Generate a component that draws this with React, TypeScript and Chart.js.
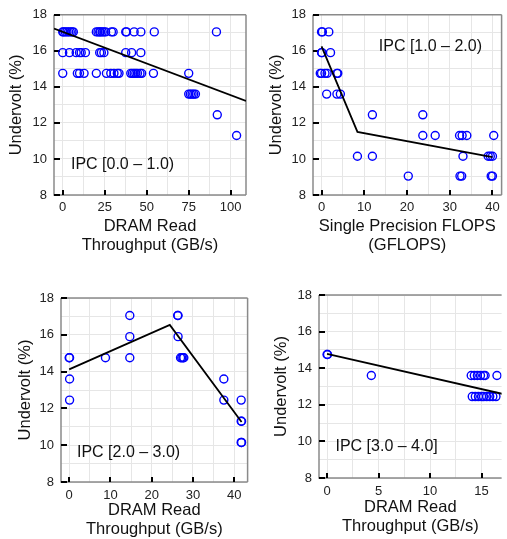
import React, { useEffect, useRef } from "react";
import { Chart, registerables } from "chart.js";

Chart.register(...registerables);

const FONT = "'Liberation Sans', Arial, Helvetica, sans-serif";

// ---------- shared y axis ----------
const yTickLabels = [8, 10, 12, 14, 16, 18];
const yGrid = [8, 9, 10, 11, 12, 13, 14, 15, 16, 17, 18];

// ---------- Panel 1: IPC [0.0 – 1.0) ----------
const p1XTicks = [0, 25, 50, 75, 100];
const p1XGrid = [0, 12.5, 25, 37.5, 50, 62.5, 75, 87.5, 100];
const p1X = [
  0, 0.5, 1.5, 2.5, 3.5, 4.5, 5.5, 6.3, 20, 21, 22, 22.5, 23.5, 24.5, 25.5, 29, 30, 37.5, 38, 42.5, 46.5, 54.5, 91.5,
  0, 4, 8, 10, 11, 13.5, 22, 23, 24.5, 37.5, 41, 46.5,
  0, 8.7, 10, 12.7, 20, 26, 28.6, 30.5, 32.5, 33.5, 40.5, 41.5, 42.5, 43.5, 44.5, 46, 47, 54, 75,
  75, 76, 77, 78, 79,
  92,
  103.5,
];
const p1Y = [
  17.05, 17.05, 17.05, 17.05, 17.05, 17.05, 17.05, 17.05, 17.05, 17.05, 17.05, 17.05, 17.05, 17.05, 17.05, 17.05, 17.05, 17.05, 17.05, 17.05, 17.05, 17.05, 17.05,
  15.9, 15.9, 15.9, 15.9, 15.9, 15.9, 15.9, 15.9, 15.9, 15.9, 15.9, 15.9,
  14.75, 14.75, 14.75, 14.75, 14.75, 14.75, 14.75, 14.75, 14.75, 14.75, 14.75, 14.75, 14.75, 14.75, 14.75, 14.75, 14.75, 14.75, 14.75,
  13.6, 13.6, 13.6, 13.6, 13.6,
  12.45,
  11.3,
];
const p1FitX = [-5.2, 109.1];
const p1FitY = [17.24, 13.22];

// ---------- Panel 2: IPC [1.0 – 2.0) ----------
const p2XTicks = [0, 10, 20, 30, 40];
const p2XGrid = [0, 5, 10, 15, 20, 25, 30, 35, 40];
const p2X = [
  0, 0.2, 1.7,
  0, 0.1, 2.1,
  -0.3, 0, 0.8, 1.3, 3.6, 3.8,
  1.2, 3.6, 4.4,
  11.9, 23.7,
  23.7, 26.6, 32.3, 32.9, 34, 40.3,
  8.4, 11.9, 33.1, 39, 39.5, 40,
  20.3, 32.4, 32.8, 39.7, 40,
];
const p2Y = [
  17.05, 17.05, 17.05,
  15.9, 15.9, 15.9,
  14.75, 14.75, 14.75, 14.75, 14.75, 14.75,
  13.6, 13.6, 13.6,
  12.45, 12.45,
  11.3, 11.3, 11.3, 11.3, 11.3, 11.3,
  10.15, 10.15, 10.15, 10.15, 10.15, 10.15,
  9.05, 9.05, 9.05, 9.05, 9.05,
];
const p2FitX = [0, 8.4, 40];
const p2FitY = [16.25, 11.5, 10.1];

// ---------- Panel 3: IPC [2.0 – 3.0) ----------
const p3XTicks = [0, 10, 20, 30, 40];
const p3XGrid = [0, 5, 10, 15, 20, 25, 30, 35, 40];
const p3X = [
  14.7, 26.3, 26.4,
  14.7, 26.4,
  0, 0.1, 8.8, 14.7, 27, 27.3, 27.6, 27.8,
  0.1, 37.5,
  0.1, 37.5, 41.7,
  41.7, 41.8,
  41.7, 41.8,
];
const p3Y = [
  17.05, 17.05, 17.05,
  15.9, 15.9,
  14.75, 14.75, 14.75, 14.75, 14.75, 14.75, 14.75, 14.75,
  13.6, 13.6,
  12.45, 12.45, 12.45,
  11.3, 11.3,
  10.15, 10.15,
];
const p3FitX = [0, 24.4, 41.8];
const p3FitY = [14.12, 16.54, 11.26];

// ---------- Panel 4: IPC [3.0 – 4.0] ----------
const p4XTicks = [0, 5, 10, 15];
const p4XGrid = [0, 2.5, 5, 7.5, 10, 12.5, 15];
const p4X = [
  0, 0.05,
  4.3, 14.0, 14.3, 14.6, 14.9, 15.2, 15.35, 16.5,
  14.1, 14.4, 14.7, 15.0, 15.2, 15.5, 15.8, 16.1, 16.4,
];
const p4Y = [
  14.75, 14.75,
  13.6, 13.6, 13.6, 13.6, 13.6, 13.6, 13.6, 13.6,
  12.45, 12.45, 12.45, 12.45, 12.45, 12.45, 12.45, 12.45, 12.45,
];
const p4FitX = [0, 17];
const p4FitY = [14.78, 12.6];

type PanelCfg = {
  left: number; top: number; width: number; height: number;
  pad: { left: number; top: number; right: number; bottom: number };
  yAxisWidth: number; xAxisHeight: number;
  xMin: number; xMax: number; xGrid: number[]; xTicks: number[];
  xs: number[]; ys: number[]; fitX: number[]; fitY: number[];
  xTitle: string[]; yTitlePad: number; xTitlePad: number; xTickPad: number;
  label: string; labelX: number; labelY: number; rightBorder: boolean;
};

const panels: PanelCfg[] = [
  {
    left: 0, top: 0, width: 253, height: 270,
    pad: { left: 0, top: 11, right: 7, bottom: 0 }, yAxisWidth: 54, xAxisHeight: 75,
    xMin: -5.2, xMax: 109.1, xGrid: p1XGrid, xTicks: p1XTicks,
    xs: p1X, ys: p1Y, fitX: p1FitX, fitY: p1FitY,
    xTitle: ["DRAM Read", "Throughput (GB/s)"], yTitlePad: 7, xTitlePad: 15.5, xTickPad: 4.2,
    label: "IPC [0.0 \u2013 1.0)", labelX: 4.9, labelY: 9.68, rightBorder: true,
  },
  {
    left: 253, top: 0, width: 254, height: 270,
    pad: { left: 0, top: 11, right: 2, bottom: 0 }, yAxisWidth: 60, xAxisHeight: 75,
    xMin: -2.0, xMax: 42.14, xGrid: p2XGrid, xTicks: p2XTicks,
    xs: p2X, ys: p2Y, fitX: p2FitX, fitY: p2FitY,
    xTitle: ["Single Precision FLOPS", "(GFLOPS)"], yTitlePad: 14.2, xTitlePad: 15.5, xTickPad: 4.2,
    label: "IPC [1.0 \u2013 2.0)", labelX: 13.4, labelY: 16.24, rightBorder: true,
  },
  {
    left: 0, top: 270, width: 253, height: 269,
    pad: { left: 0, top: 28, right: 2, bottom: 0 }, yAxisWidth: 61, xAxisHeight: 57,
    xMin: -1.98, xMax: 43.26, xGrid: p3XGrid, xTicks: p3XTicks,
    xs: p3X, ys: p3Y, fitX: p3FitX, fitY: p3FitY,
    xTitle: ["DRAM Read", "Throughput (GB/s)"], yTitlePad: 15.5, xTitlePad: 0.5, xTickPad: 5.5,
    label: "IPC [2.0 \u2013 3.0)", labelX: 1.9, labelY: 9.62, rightBorder: true,
  },
  {
    left: 253, top: 270, width: 254, height: 269,
    pad: { left: 0, top: 25, right: 0, bottom: 0 }, yAxisWidth: 66, xAxisHeight: 61,
    xMin: -0.78, xMax: 16.95, xGrid: p4XGrid, xTicks: p4XTicks,
    xs: p4X, ys: p4Y, fitX: p4FitX, fitY: p4FitY,
    xTitle: ["DRAM Read", "Throughput (GB/s)"], yTitlePad: 19.2, xTitlePad: 2.8, xTickPad: 5.9,
    label: "IPC [3.0 \u2013 4.0]", labelX: 0.82, labelY: 9.69, rightBorder: false,
  },
];

const framePlugin = {
  id: "frame",
  beforeDatasetsDraw(chart: any, _args: any, opts: any) {
    const { ctx, chartArea: a, scales } = chart;
    ctx.save();
    ctx.strokeStyle = "#8a8a8a";
    ctx.lineWidth = 1.5;
    ctx.beginPath();
    ctx.moveTo(a.left, a.top);
    ctx.lineTo(a.left, a.bottom);
    ctx.lineTo(a.right, a.bottom);
    if (opts.rightBorder) {
      ctx.moveTo(a.right, a.bottom);
      ctx.lineTo(a.right, a.top);
    }
    ctx.moveTo(a.left, a.top);
    ctx.lineTo(a.right, a.top);
    ctx.stroke();
    ctx.strokeStyle = "#000";
    ctx.lineWidth = 2;
    ctx.beginPath();
    for (const v of opts.xTicks) {
      const px = Math.round(scales.x.getPixelForValue(v));
      ctx.moveTo(px, a.bottom);
      ctx.lineTo(px, a.bottom - 5);
    }
    for (const v of opts.yTicks) {
      const py = Math.round(scales.y.getPixelForValue(v));
      ctx.moveTo(a.left, py);
      ctx.lineTo(a.left + 6, py);
    }
    ctx.stroke();
    ctx.restore();
  },
  afterDatasetsDraw(chart: any, _args: any, opts: any) {
    const { ctx, scales } = chart;
    ctx.save();
    ctx.font = `16px ${FONT}`;
    ctx.fillStyle = "#111";
    ctx.textAlign = "left";
    ctx.textBaseline = "middle";
    ctx.fillText(opts.label, scales.x.getPixelForValue(opts.labelX), scales.y.getPixelForValue(opts.labelY));
    ctx.restore();
  },
};

function Panel({ cfg }: { cfg: PanelCfg }) {
  const ref = useRef<HTMLCanvasElement | null>(null);
  useEffect(() => {
    if (!ref.current) return;
    const pts = cfg.xs.map((x, i) => ({ x, y: cfg.ys[i] }));
    const fit = cfg.fitX.map((x, i) => ({ x, y: cfg.fitY[i] }));
    const chart = new Chart(ref.current, {
      type: "scatter",
      data: {
        datasets: [
          {
            data: fit,
            showLine: true,
            borderColor: "#000",
            borderWidth: 1.8,
            pointRadius: 0,
            fill: false,
            tension: 0,
          } as any,
          {
            data: pts,
            pointStyle: "circle",
            pointRadius: 4,
            borderWidth: 1.4,
            borderColor: "#0000ff",
            backgroundColor: "rgba(0,0,0,0)",
          } as any,
        ],
      },
      options: {
        responsive: false,
        animation: false,
        events: [],
        layout: { padding: cfg.pad },
        plugins: {
          legend: { display: false },
          tooltip: { enabled: false },
          frame: {
            xTicks: cfg.xTicks,
            yTicks: yTickLabels,
            label: cfg.label,
            labelX: cfg.labelX,
            labelY: cfg.labelY,
            rightBorder: cfg.rightBorder,
          },
        } as any,
        scales: {
          x: {
            type: "linear",
            min: cfg.xMin,
            max: cfg.xMax,
            afterBuildTicks: (axis: any) => {
              axis.ticks = cfg.xGrid.map((v) => ({ value: v }));
            },
            afterFit: (axis: any) => {
              axis.height = cfg.xAxisHeight;
            },
            ticks: {
              autoSkip: false,
              maxRotation: 0,
              padding: cfg.xTickPad,
              color: "#222",
              font: { family: FONT, size: 13 },
              callback: (v: any) => (cfg.xTicks.includes(Number(v)) ? String(v) : ""),
            },
            grid: { color: "#e6e6e6", lineWidth: 1, drawTicks: false },
            border: { display: false },
            title: {
              display: true,
              text: cfg.xTitle,
              color: "#111",
              font: { family: FONT, size: 16.5, lineHeight: 1.15 },
              padding: { top: 0, bottom: cfg.xTitlePad },
            },
          },
          y: {
            type: "linear",
            min: 8,
            max: 18,
            afterBuildTicks: (axis: any) => {
              axis.ticks = yGrid.map((v) => ({ value: v }));
            },
            afterFit: (axis: any) => {
              axis.width = cfg.yAxisWidth;
            },
            ticks: {
              autoSkip: false,
              padding: 7,
              color: "#222",
              font: { family: FONT, size: 13 },
              callback: (v: any) => (yTickLabels.includes(Number(v)) ? String(v) : ""),
            },
            grid: { color: "#e6e6e6", lineWidth: 1, drawTicks: false },
            border: { display: false },
            title: {
              display: true,
              text: "Undervolt (%)",
              color: "#111",
              font: { family: FONT, size: 16.5, lineHeight: 1.15 },
              padding: { top: cfg.yTitlePad, bottom: 0 },
            },
          },
        },
      } as any,
      plugins: [framePlugin as any],
    });
    return () => chart.destroy();
  }, [cfg]);
  return (
    <canvas
      ref={ref}
      width={cfg.width}
      height={cfg.height}
      style={{ position: "absolute", left: cfg.left, top: cfg.top, width: cfg.width, height: cfg.height }}
    />
  );
}

export default function App() {
  return (
    <div style={{ position: "absolute", left: 0, top: 0, width: 507, height: 539, background: "#fff", overflow: "hidden" }}>
      {panels.map((p, i) => (
        <Panel key={i} cfg={p} />
      ))}
    </div>
  );
}
